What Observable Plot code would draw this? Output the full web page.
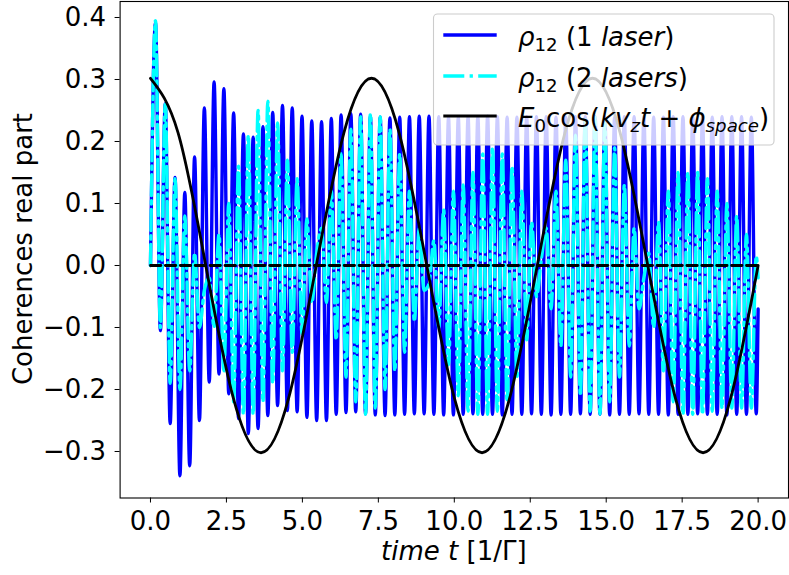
<!DOCTYPE html>
<html><head><meta charset="utf-8">
<script src="https://cdn.jsdelivr.net/npm/d3@7"></script>
<script src="https://cdn.jsdelivr.net/npm/@observablehq/plot@0.6"></script>
<style>body{margin:0;background:#fff} svg{display:block}</style>
</head><body><div id="chart"></div><script>
// times of the fast-oscillation maxima and minima
const peakTimes = [0.165, 0.487, 0.808, 1.130, 1.451, 1.773, 2.094, 2.416, 2.737, 3.059,
  3.380, 3.702, 4.023, 4.345, 4.666, 4.988, 5.309, 5.631, 5.952, 6.274,
  6.595, 6.917, 7.238, 7.560, 7.881, 8.203, 8.524, 8.846, 9.167, 9.489,
  9.810, 10.132, 10.453, 10.775, 11.096, 11.418, 11.739, 12.061, 12.382, 12.704,
  13.025, 13.347, 13.668, 13.990, 14.311, 14.633, 14.954, 15.276, 15.597, 15.919,
  16.240, 16.562, 16.883, 17.205, 17.526, 17.848, 18.169, 18.491, 18.812, 19.134,
  19.455, 19.777];
const troughTimes = [0.326, 0.648, 0.969, 1.291, 1.612, 1.934, 2.255, 2.577, 2.898, 3.220,
  3.541, 3.863, 4.184, 4.506, 4.827, 5.149, 5.470, 5.792, 6.113, 6.435,
  6.756, 7.078, 7.399, 7.721, 8.042, 8.364, 8.685, 9.007, 9.328, 9.650,
  9.971, 10.293, 10.614, 10.936, 11.257, 11.579, 11.900, 12.222, 12.543, 12.865,
  13.186, 13.508, 13.829, 14.151, 14.472, 14.794, 15.115, 15.437, 15.758, 16.080,
  16.401, 16.723, 17.044, 17.366, 17.687, 18.009, 18.330, 18.652, 18.973, 19.295,
  19.616, 19.938];
// rho12 (1 laser): values at peakTimes and troughTimes
const oneLaserAtPeaks = [0.392, 0.261, 0.142, 0.118, 0.175, 0.254, 0.296, 0.285, 0.246, 0.212,
  0.207, 0.224, 0.247, 0.258, 0.254, 0.241, 0.233, 0.232, 0.237, 0.243,
  0.245, 0.244, 0.241, 0.239, 0.238, 0.239, 0.240, 0.241, 0.241, 0.240,
  0.239, 0.239, 0.240, 0.240, 0.241, 0.240, 0.239, 0.239, 0.240, 0.240,
  0.240, 0.239, 0.239, 0.240, 0.240, 0.240, 0.239, 0.239, 0.240, 0.240,
  0.240, 0.239, 0.239, 0.240, 0.240, 0.240, 0.239, 0.239, 0.240, 0.240,
  0.240, 0.239];
const oneLaserAtTroughs = [-0.105, -0.255, -0.339, -0.323, -0.250, -0.188, -0.175, -0.207, -0.247, -0.271,
  -0.263, -0.242, -0.226, -0.234, -0.236, -0.245, -0.250, -0.250, -0.240, -0.237,
  -0.236, -0.239, -0.241, -0.242, -0.241, -0.240, -0.239, -0.239, -0.240, -0.241,
  -0.241, -0.240, -0.239, -0.240, -0.240, -0.241, -0.240, -0.240, -0.239, -0.240,
  -0.241, -0.240, -0.240, -0.239, -0.240, -0.240, -0.241, -0.240, -0.240, -0.239,
  -0.240, -0.240, -0.241, -0.240, -0.240, -0.239, -0.240, -0.240, -0.241, -0.240,
  -0.240, -0.239];
const oneLaserEnd = -0.07;
// rho12 (2 lasers): values at the same times
const twoLasersAtPeaks = [0.395, 0.26, 0.14, 0.08, 0.02, -0.04, -0.10, -0.17, -0.22, -0.24,
  -0.24, -0.22, -0.19, -0.17, -0.14, -0.11, -0.06, 0.06, 0.12, 0.18,
  0.22, 0.24, 0.245, 0.24, 0.22, 0.18, 0.12, 0.06, -0.03, -0.10,
  -0.16, -0.21, -0.235, -0.24, -0.24, -0.235, -0.22, -0.18, -0.12, -0.05,
  0.06, 0.12, 0.17, 0.21, 0.235, 0.24, 0.23, 0.19, 0.13, 0.06,
  -0.02, -0.10, -0.17, -0.22, -0.24, -0.24, -0.24, -0.235, -0.23, -0.23,
  -0.23, -0.23];
const twoLasersAtTroughs = [-0.10, -0.19, -0.20, -0.17, -0.10, -0.02, 0.05, 0.10, 0.16, 0.21,
  0.25, 0.265, 0.23, 0.17, 0.14, 0.075, 0.02, -0.06, -0.12, -0.18,
  -0.22, -0.24, -0.23, -0.20, -0.17, -0.14, -0.09, -0.04, 0.04, 0.09,
  0.12, 0.13, 0.15, 0.18, 0.19, 0.18, 0.16, 0.12, 0.07, 0.01,
  -0.07, -0.13, -0.18, -0.21, -0.235, -0.24, -0.22, -0.18, -0.13, -0.07,
  0.02, 0.07, 0.12, 0.15, 0.15, 0.15, 0.14, 0.12, 0.10, 0.08,
  0.05, 0.015];
const twoLasersEnd = -0.02;
// E0 cos(k vz t + phi_space)
const fieldTimes = [0, 0.909, 1.819, 2.728, 3.638, 4.547, 5.456, 6.366, 7.275, 8.184, 9.094, 10.003,
  10.913, 11.822, 12.731, 13.641, 14.55, 15.459, 16.369, 17.278, 18.188, 19.097, 20.0];
const fieldValues = [0.302, 0.214, 0, -0.214, -0.302, -0.214, 0, 0.214, 0.302, 0.214, 0, -0.214,
  -0.302, -0.214, 0, 0.214, 0.302, 0.214, 0, -0.214, -0.302, -0.214, 0];
const zeroTimes = [0, 20];
const zeroValues = [0, 0];
const xTicks = [0, 2.5, 5, 7.5, 10, 12.5, 15, 17.5, 20];
const yTicks = [-0.3, -0.2, -0.1, 0, 0.1, 0.2, 0.3, 0.4];

function series(peaksV, troughsV, endV) {
  const rows = [{t: 0, v: 0}];
  peakTimes.forEach((t, i) => {
    rows.push({t, v: peaksV[i]});
    rows.push({t: troughTimes[i], v: troughsV[i]});
  });
  rows.push({t: 20, v: endV});
  return rows;
}
const one = series(oneLaserAtPeaks, oneLaserAtTroughs, oneLaserEnd);
const two = series(twoLasersAtPeaks, twoLasersAtTroughs, twoLasersEnd);
const field = fieldTimes.map((t, i) => ({t, v: fieldValues[i]}));
const zero = zeroTimes.map((t, i) => ({t, v: zeroValues[i]}));

const FS = 26;
const plot = Plot.plot({
  width: 789, height: 575,
  marginLeft: 119.6, marginRight: 1, marginTop: 1, marginBottom: 77.5,
  style: {fontFamily: "DejaVu Sans", fontSize: FS + "px", background: "#fff", color: "#000"},
  x: {domain: [-1, 21], ticks: xTicks, tickFormat: d3.format(".1f"), tickSize: 5, tickPadding: 9, label: null},
  y: {domain: [-0.375, 0.4258], ticks: yTicks, tickFormat: d3.format(".1f"), tickSize: 5, tickPadding: 9, label: null},
  marks: [
    Plot.line(one, {x: "t", y: "v", stroke: "#0000ff", strokeWidth: 3.4, curve: "monotone-x"}),
    Plot.line(two, {x: "t", y: "v", stroke: "#00ffff", strokeWidth: 3.4, strokeDasharray: "21,5.3,3.3,5.3", curve: "monotone-x"}),
    Plot.line(field, {x: "t", y: "v", stroke: "#000", strokeWidth: 2.8, curve: "natural"}),
    Plot.line(zero, {x: "t", y: "v", stroke: "#000", strokeWidth: 2.8, strokeDasharray: "10.4,4.5"}),
    Plot.frame({stroke: "#000", strokeWidth: 1.1})
  ]
});
document.getElementById("chart").appendChild(plot);

const svg = d3.select(plot);
// axis labels
const xl = svg.append("text").attr("x", 453.8).attr("y", 560).attr("text-anchor", "middle")
  .attr("font-family", "DejaVu Sans").attr("font-size", FS).attr("fill", "#000");
xl.append("tspan").attr("font-style", "italic").text("time t");
xl.append("tspan").text(" [1/Γ]");
svg.append("text").attr("transform", "translate(31.7,249) rotate(-90)").attr("text-anchor", "middle")
  .attr("font-family", "DejaVu Sans").attr("font-size", FS).attr("fill", "#000").text("Coherences real part");

// legend
const lg = svg.append("g").attr("font-family", "DejaVu Sans").attr("font-size", FS).attr("fill", "#000")
  .attr("text-anchor", "start");
lg.append("rect").attr("x", 433.5).attr("y", 14).attr("width", 340.5).attr("height", 131).attr("rx", 4)
  .attr("fill", "#ffffff").attr("fill-opacity", 0.8).attr("stroke", "#cccccc").attr("stroke-width", 1.1);
const rows = [
  {y: 35, stroke: "#0000ff", w: 3.4, dash: null, parts: [["ρ", "i"], ["12", "s"], [" (1 ", "n"], ["laser", "i"], [")", "n"]]},
  {y: 76, stroke: "#00ffff", w: 3.4, dash: "21,5.3,3.3,5.3", parts: [["ρ", "i"], ["12", "s"], [" (2 ", "n"], ["lasers", "i"], [")", "n"]]},
  {y: 116, stroke: "#000", w: 2.8, dash: null, parts: [["E", "i"], ["0", "s"], ["cos(", "n"], ["kv", "i"], ["z", "si"], ["t", "i"], [" + ", "n"], ["ϕ", "i"], ["space", "si"], [")", "n"]]}
];
rows.forEach(r => {
  const ln = lg.append("line").attr("x1", 443.3).attr("x2", 496.7).attr("y1", r.y).attr("y2", r.y)
    .attr("stroke", r.stroke).attr("stroke-width", r.w);
  if (r.dash) ln.attr("stroke-dasharray", r.dash);
  const tx = lg.append("text").attr("x", 518).attr("y", r.y + 10.5).attr("text-anchor", "start");
  let shifted = false;
  r.parts.forEach(([s, k]) => {
    const sp = tx.append("tspan").text(s);
    const sub = k === "s" || k === "si";
    if (k === "i" || k === "si") sp.attr("font-style", "italic");
    if (sub) sp.attr("font-size", FS * 0.7);
    if (sub && !shifted) { sp.attr("dy", 5); shifted = true; }
    else if (!sub && shifted) { sp.attr("dy", -5); shifted = false; }
  });
});
</script></body></html>
